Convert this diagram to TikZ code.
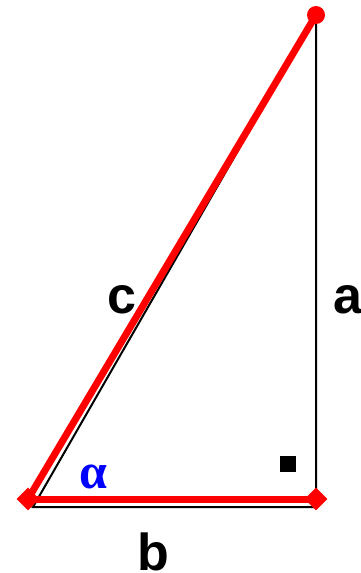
\documentclass[tikz,border=0pt]{standalone}
\usepackage{fontspec}
\setmainfont{Liberation Sans}
\newfontfamily\greekfont{Liberation Serif}
\usetikzlibrary{shapes.geometric}

\begin{document}
\begin{tikzpicture}[
    x=1pt, y=-1pt, % pixel units, y pointing down
    side/.style={black, line width=2pt}, % thin black sides
    redside/.style={red, line width=7pt}, % highlighted sides
    corner/.style={diamond, fill=red, inner sep=0pt, minimum size=23pt},
    tip/.style={circle, fill=red, inner sep=0pt, minimum size=18pt},
    lbl/.style={font=\fontsize{52}{52}\selectfont\bfseries}
]
    \useasboundingbox (0,0) rectangle (360,573);

    % Black triangle
    \coordinate (A) at (33,507);
    \coordinate (B) at (316,507);
    \coordinate (C) at (316,15);
    \draw[side] (A) -- (B) -- (C) -- cycle;

    % Right angle mark
    \node[fill=black, inner sep=0pt, minimum size=16pt] (rect) at (288,464) {};

    % Red sides with their end markers
    \node[corner] (P) at (28,499) {};
    \node[corner] (Q) at (316,499) {};
    \node[tip] (R) at (316,15) {};
    \draw[redside] (P.center) -- (R.center);
    \draw[redside] (P.center) -- (Q.center);

    % Labels
    \node[lbl] (c) at (122,300) {c};
    \node[lbl] (a) at (348,300) {a};
    \node[lbl] (b) at (153,552) {b};
    \node[blue, font=\greekfont\fontsize{50}{50}\selectfont\bfseries] (alpha) at (93,477) {α};

\end{tikzpicture}
\end{document}
